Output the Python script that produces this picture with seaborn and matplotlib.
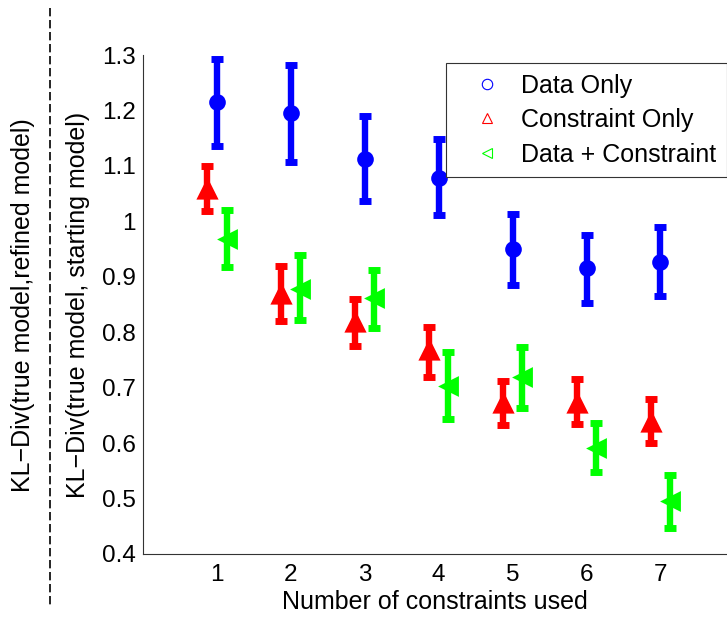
import numpy as np
import pandas as pd
import matplotlib
matplotlib.use("Agg")
import matplotlib.pyplot as plt
from matplotlib.lines import Line2D
import seaborn as sns

# Number of constraints
constraints = [1, 2, 3, 4, 5, 6, 7]

# Data Only
data_only_mean = [1.215, 1.195, 1.113, 1.079, 0.950, 0.915, 0.926]
data_only_low = [1.135, 1.107, 1.037, 1.012, 0.886, 0.852, 0.865]
data_only_high = [1.292, 1.282, 1.190, 1.148, 1.013, 0.976, 0.990]

# Constraint Only
constr_only_mean = [1.060, 0.870, 0.820, 0.770, 0.675, 0.675, 0.640]
constr_only_low = [1.018, 0.820, 0.775, 0.720, 0.632, 0.635, 0.600]
constr_only_high = [1.100, 0.920, 0.860, 0.810, 0.712, 0.715, 0.680]

# Data + Constraint
both_mean = [0.968, 0.878, 0.862, 0.703, 0.720, 0.592, 0.495]
both_low = [0.917, 0.822, 0.807, 0.643, 0.663, 0.548, 0.447]
both_high = [1.020, 0.940, 0.912, 0.765, 0.773, 0.637, 0.543]

series_names = ["Data Only", "Constraint Only", "Data + Constraint"]
ytick_labels = ["0.4", "0.5", "0.6", "0.7", "0.8", "0.9", "1", "1.1", "1.2", "1.3"]

sns.set_style("white")
plt.rcParams["font.family"] = ["Liberation Sans", "DejaVu Sans"]
plt.rcParams.update({"text.color": "black", "axes.labelcolor": "black",
                     "xtick.labelcolor": "black", "ytick.labelcolor": "black"})

W, H = 727, 618
fig = plt.figure(figsize=(W / 100, H / 100), dpi=100)
ax_left, ax_right, ax_top, ax_bottom = 143, 727, 55, 554
ax = fig.add_axes([ax_left / W, 1 - ax_bottom / H,
                   (ax_right - ax_left) / W, (ax_bottom - ax_top) / H])

series = [
    (data_only_mean, data_only_low, data_only_high, 0.0, "#0000ff", "o", 12),
    (constr_only_mean, constr_only_low, constr_only_high, -0.13, "#ff0000", "^", 16),
    (both_mean, both_low, both_high, 0.13, "#00ff00", "<", 15),
]

rows = []
for name, (m, lo, hi, dx, col, mk, ms) in zip(series_names, series):
    for c, v, l, h in zip(constraints, m, lo, hi):
        rows.append({"series": name, "x": c + dx, "y": v, "lo": l, "hi": h})
df = pd.DataFrame(rows)

for name, (m, lo, hi, dx, col, mk, ms) in zip(series_names, series):
    sub = df[df["series"] == name]
    ax.errorbar(sub["x"], sub["y"],
                yerr=[sub["y"] - sub["lo"], sub["hi"] - sub["y"]],
                fmt="none", ecolor=col, elinewidth=4.6, capsize=4.5, capthick=5,
                zorder=2)
    sns.scatterplot(data=sub, x="x", y="y", marker=mk, color=col,
                    s=ms ** 2, edgecolor=col, linewidth=0, ax=ax, zorder=3,
                    legend=False)

ax.set_xlim(0, 7.9)
ax.set_ylim(0.4, 1.3)
ax.set_xticks(constraints)
ax.set_yticks(np.round(np.arange(0.4, 1.31, 0.1), 1))
ax.set_yticklabels(ytick_labels)
ax.tick_params(axis="both", direction="in", length=6, width=0.8, labelsize=17.5,
               color="#333333", labelcolor="black")
ax.tick_params(axis="y", pad=5)
ax.tick_params(axis="x", pad=7)
ax.set_xlabel("Number of constraints used", fontsize=18, labelpad=3, color="black")
ax.set_ylabel("KL\u2212Div(true model, starting model)", fontsize=18, color="black")
ax.yaxis.set_label_coords((90 - ax_left) / (ax_right - ax_left), 0.5)

for side in ["top", "right"]:
    ax.spines[side].set_visible(False)
for side in ["left", "bottom"]:
    ax.spines[side].set_color("#333333")
    ax.spines[side].set_linewidth(0.8)

handles = [
    Line2D([], [], linestyle="none", marker="o", markerfacecolor="none",
           markeredgecolor="#0000ff", markersize=7.5, markeredgewidth=0.8),
    Line2D([], [], linestyle="none", marker="^", markerfacecolor="none",
           markeredgecolor="#ff0000", markersize=7.5, markeredgewidth=0.8),
    Line2D([], [], linestyle="none", marker="<", markerfacecolor="none",
           markeredgecolor="#00ff00", markersize=7.5, markeredgewidth=0.8),
]
leg = fig.legend(handles, series_names, loc="upper left",
                 bbox_to_anchor=(446 / W, 1 - 63 / H), bbox_transform=fig.transFigure,
                 fontsize=18, frameon=True, fancybox=False, framealpha=1,
                 edgecolor="#333333", borderpad=0.42, labelspacing=0.42,
                 handletextpad=0.14, borderaxespad=0, handlelength=2.44,
                 labelcolor="black")
leg.get_frame().set_linewidth(0.8)

# Outer axis label with dashed separator
fig.text(23 / W, 1 - 305 / H, "KL\u2212Div(true model,refined model)",
         rotation=90, ha="center", va="center", fontsize=18, color="black")
fig.add_artist(Line2D([50 / W, 50 / W], [1 - 8 / H, 1 - 605 / H],
                      transform=fig.transFigure, color="black",
                      linestyle=(0, (5, 2.2)), linewidth=1.2))

fig.savefig("out.png", dpi=100)
